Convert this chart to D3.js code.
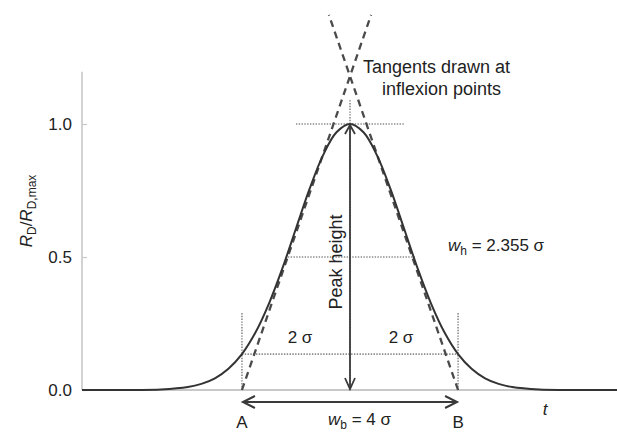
<!DOCTYPE html>
<html>
<head>
<meta charset="utf-8">
<script src="https://cdn.jsdelivr.net/npm/d3@7"></script>
<style>
  body { margin: 0; background: #fff; }
  text { font-family: "Liberation Sans", Arial, sans-serif; fill: #222; }
</style>
</head>
<body>
<div id="chart"></div>
<script>
// peak profile (t in units of sigma, R_D/R_D,max)
const tVals = [-4.96, -4, -3.5, -3, -2.75, -2.5, -2.25, -2, -1.75, -1.5, -1.25, -1, -0.75, -0.5, -0.25, 0,
               0.25, 0.5, 0.75, 1, 1.25, 1.5, 1.75, 2, 2.25, 2.5, 2.75, 3, 3.5, 4, 4.96];
const rVals = [0, 0.0003, 0.002, 0.011, 0.023, 0.044, 0.080, 0.135, 0.216, 0.325, 0.458, 0.607, 0.755, 0.882, 0.969, 1.0,
               0.969, 0.882, 0.755, 0.607, 0.458, 0.325, 0.216, 0.135, 0.080, 0.044, 0.023, 0.011, 0.002, 0.0003, 0];
const yTicks = [0, 0.5, 1.0];

// tangent lines (dashed), [t, r] end points
const tangentLeft = [[-2, 0], [0.39, 1.41]];
const tangentRight = [[2, 0], [-0.39, 1.41]];

// dotted guide lines, [t1, r1, t2, r2]
const guides = [
  [-1, 1.0, 1, 1.0],
  [0, 1.0, 0, 1.09],
  [0, 0, 0, 1.0],
  [-1.15, 0.5, 1.2, 0.5],
  [-2, 0.135, 2, 0.135],
  [-2, 0, -2, 0.29],
  [2, 0, 2, 0.29]
];

const width = 617, height = 433;
const x = d3.scaleLinear().domain([-4.96, 4.96]).range([82, 618]);
const y = d3.scaleLinear().domain([0, 1.2]).range([390, 70.8]);

const svg = d3.select("#chart").append("svg")
    .attr("width", width)
    .attr("height", height);

// axes
const axisY = d3.axisRight(y).tickValues(yTicks).tickSize(5).tickFormat("");
svg.append("g")
    .attr("transform", `translate(${x(-4.96)},0)`)
    .call(axisY)
    .call(g => g.select(".domain").attr("stroke", "#c8c8c8").attr("stroke-width", 1.6)
        .attr("d", `M0,${y(0)}V${y(1.2) + 1}`))
    .call(g => g.selectAll(".tick line").attr("stroke", "#c8c8c8").attr("stroke-width", 1.2));

svg.append("g")
  .selectAll("text")
  .data(yTicks)
  .join("text")
    .attr("x", 72)
    .attr("y", d => y(d) + 6)
    .attr("text-anchor", "end")
    .style("font-size", "17px")
    .text(d => d.toFixed(1));

svg.append("line")
    .attr("x1", x(-4.96)).attr("x2", x(4.96))
    .attr("y1", y(0)).attr("y2", y(0))
    .attr("stroke", "#c8c8c8")
    .attr("stroke-width", 2);

// dotted guides
svg.append("g")
  .selectAll("line")
  .data(guides)
  .join("line")
    .attr("x1", d => x(d[0])).attr("y1", d => y(d[1]))
    .attr("x2", d => x(d[2])).attr("y2", d => y(d[3]))
    .attr("stroke", "#8a8a8a")
    .attr("stroke-width", 1.6)
    .attr("stroke-dasharray", "1.4,1.4");

// tangents
const line = d3.line().x(d => x(d[0])).y(d => y(d[1]));
svg.append("g")
  .selectAll("path")
  .data([tangentLeft, tangentRight])
  .join("path")
    .attr("d", line)
    .attr("fill", "none")
    .attr("stroke", "#4a4a4a")
    .attr("stroke-width", 2.3)
    .attr("stroke-dasharray", "7,5");

// peak curve
const profile = d3.line()
    .x((d, i) => x(tVals[i]))
    .y(d => y(d))
    .curve(d3.curveCatmullRom);
svg.append("path")
    .datum(rVals)
    .attr("d", profile)
    .attr("fill", "none")
    .attr("stroke", "#333")
    .attr("stroke-width", 2);

// arrows
function chevron(px, py, dir, len, half) {
  // dir: unit vector pointing where arrow points
  const [dx, dy] = dir;
  const bx = px - dx * len, by = py - dy * len;
  return `M${bx - dy * half},${by + dx * half}L${px},${py}L${bx + dy * half},${by - dx * half}`;
}
const arrowCol = "#3a3a3a";
svg.append("line")
    .attr("x1", x(0)).attr("x2", x(0))
    .attr("y1", y(1.0) + 1).attr("y2", y(0) - 1)
    .attr("stroke", arrowCol).attr("stroke-width", 1.8);
svg.append("path")
    .attr("d", chevron(x(0), y(1.0) + 1, [0, -1], 9, 5) + chevron(x(0), y(0) - 1, [0, 1], 11, 5))
    .attr("fill", "none").attr("stroke", arrowCol).attr("stroke-width", 1.8);

const yArrow = 402;
svg.append("line")
    .attr("x1", x(-2) + 1).attr("x2", x(2) - 1)
    .attr("y1", yArrow).attr("y2", yArrow)
    .attr("stroke", arrowCol).attr("stroke-width", 2);
svg.append("path")
    .attr("d", chevron(x(-2) + 1, yArrow, [-1, 0], 12, 6) + chevron(x(2) - 1, yArrow, [1, 0], 12, 6))
    .attr("fill", "none").attr("stroke", arrowCol).attr("stroke-width", 2);

// labels
const fs = "17px";
svg.append("text")
    .attr("transform", `translate(32,211) rotate(-90)`)
    .attr("text-anchor", "middle")
    .style("font-size", fs)
    .call(t => {
      t.append("tspan").style("font-style", "italic").text("R");
      t.append("tspan").attr("dy", 4).style("font-size", "12px").text("D");
      t.append("tspan").attr("dy", -4).text("/");
      t.append("tspan").style("font-style", "italic").text("R");
      t.append("tspan").attr("dy", 4).style("font-size", "12px").text("D,max");
    });

svg.append("text")
    .attr("transform", `translate(342,262) rotate(-90)`)
    .attr("text-anchor", "middle")
    .style("font-size", "18px")
    .text("Peak height");

svg.append("text")
    .attr("x", 363).attr("y", 73)
    .style("font-size", "18px")
    .text("Tangents drawn at");
svg.append("text")
    .attr("x", 382).attr("y", 95)
    .style("font-size", "18px")
    .text("inflexion points");

svg.append("text")
    .attr("x", 448).attr("y", 251)
    .style("font-size", fs)
    .call(t => {
      t.append("tspan").style("font-style", "italic").text("w");
      t.append("tspan").attr("dy", 4).style("font-size", "12px").text("h");
      t.append("tspan").attr("dy", -4).text(" = 2.355 σ");
    });

svg.append("text")
    .attr("x", 328).attr("y", 425)
    .style("font-size", fs)
    .call(t => {
      t.append("tspan").style("font-style", "italic").text("w");
      t.append("tspan").attr("dy", 4).style("font-size", "12px").text("b");
      t.append("tspan").attr("dy", -4).text(" = 4 σ");
    });

svg.append("g")
  .selectAll("text")
  .data([[300, "2 σ"], [401, "2 σ"]])
  .join("text")
    .attr("x", d => d[0]).attr("y", 343)
    .attr("text-anchor", "middle")
    .style("font-size", fs)
    .text(d => d[1]);

svg.append("g")
  .selectAll("text")
  .data([[x(-2), "A"], [x(2), "B"]])
  .join("text")
    .attr("x", d => d[0]).attr("y", 428)
    .attr("text-anchor", "middle")
    .style("font-size", fs)
    .text(d => d[1]);

svg.append("text")
    .attr("x", 545).attr("y", 415)
    .attr("text-anchor", "middle")
    .style("font-size", fs)
    .style("font-style", "italic")
    .text("t");
</script>
</body>
</html>
